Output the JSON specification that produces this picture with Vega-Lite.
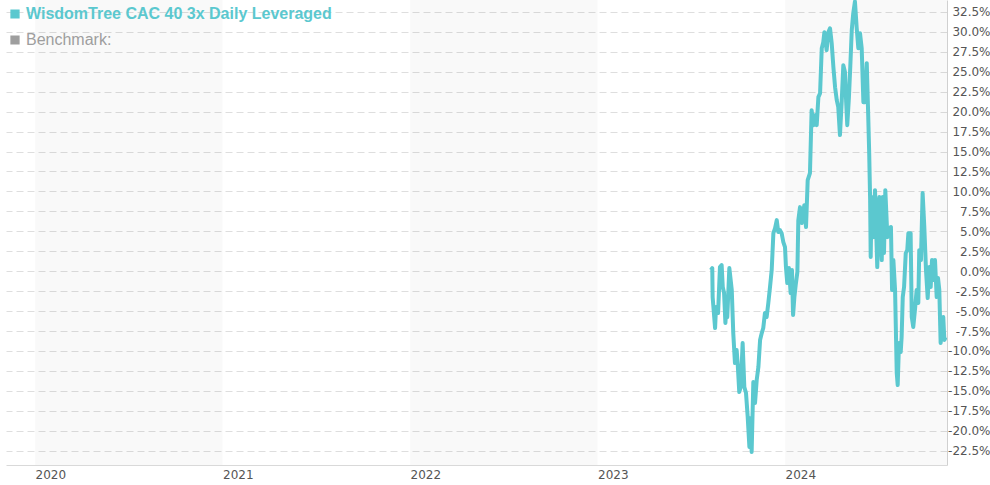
{
  "$schema": "https://vega.github.io/schema/vega-lite/v6.json",
  "width": 941,
  "height": 465,
  "autosize": {"type": "none"},
  "padding": {"left": 6, "top": 0, "right": 43, "bottom": 20},
  "background": "white",
  "config": {"view": {"stroke": null}, "font": "DejaVu Sans"},
  "layer": [
    {
      "data": {"values": [
        {"start": 2020, "end": 2021},
        {"start": 2022, "end": 2023},
        {"start": 2024, "end": 2025}
      ]},
      "mark": {"type": "rect", "clip": true, "color": "#000000", "opacity": 0.022},
      "encoding": {
        "x": {
          "field": "start", "type": "quantitative",
          "scale": {"domain": [2019.845, 2024.864], "nice": false, "zero": false},
          "axis": {
            "values": [2020, 2021, 2022, 2023, 2024], "format": "d", "title": null,
            "grid": false, "ticks": false, "tickSize": 0, "labelAlign": "left",
            "labelPadding": 4, "labelFontSize": 12, "labelColor": "#555555",
            "domainColor": "#d9d9d9", "labelFont": "DejaVu Sans", "labelFlush": false,
            "labelOverlap": false
          }
        },
        "x2": {"field": "end"}
      }
    },
    {
      "data": {"values": [
        {"t": 2023.605, "v": 0.14}, {"t": 2023.612, "v": 0.39}, {"t": 2023.614, "v": -3.25},
        {"t": 2023.627, "v": -7.13}, {"t": 2023.632, "v": -4.50}, {"t": 2023.643, "v": -5.25},
        {"t": 2023.653, "v": 0.51}, {"t": 2023.662, "v": 0.76}, {"t": 2023.668, "v": -1.99},
        {"t": 2023.675, "v": -2.74}, {"t": 2023.682, "v": -6.50}, {"t": 2023.689, "v": -4.00},
        {"t": 2023.692, "v": -5.75}, {"t": 2023.703, "v": 0.39}, {"t": 2023.716, "v": -2.37},
        {"t": 2023.724, "v": -7.76}, {"t": 2023.733, "v": -11.52}, {"t": 2023.742, "v": -9.89},
        {"t": 2023.748, "v": -11.77}, {"t": 2023.756, "v": -15.15}, {"t": 2023.764, "v": -14.52},
        {"t": 2023.774, "v": -9.01}, {"t": 2023.783, "v": -14.52}, {"t": 2023.792, "v": -15.28},
        {"t": 2023.801, "v": -18.28}, {"t": 2023.810, "v": -22.04}, {"t": 2023.817, "v": -18.41},
        {"t": 2023.822, "v": -22.67}, {"t": 2023.831, "v": -13.90}, {"t": 2023.840, "v": -16.53},
        {"t": 2023.849, "v": -13.65}, {"t": 2023.858, "v": -12.02}, {"t": 2023.867, "v": -8.63},
        {"t": 2023.876, "v": -7.76}, {"t": 2023.884, "v": -7.13}, {"t": 2023.893, "v": -5.25},
        {"t": 2023.902, "v": -5.75}, {"t": 2023.911, "v": -4.00}, {"t": 2023.920, "v": -1.99},
        {"t": 2023.929, "v": 0.14}, {"t": 2023.938, "v": 4.77}, {"t": 2023.947, "v": 5.40},
        {"t": 2023.956, "v": 6.40}, {"t": 2023.964, "v": 4.90}, {"t": 2023.973, "v": 5.15},
        {"t": 2023.982, "v": 4.77}, {"t": 2023.991, "v": 3.65}, {"t": 2024.000, "v": 3.02},
        {"t": 2024.005, "v": 0.51}, {"t": 2024.012, "v": -1.49}, {"t": 2024.021, "v": 0.39},
        {"t": 2024.030, "v": -2.74}, {"t": 2024.037, "v": 0.14}, {"t": 2024.043, "v": -5.50},
        {"t": 2024.050, "v": -3.25}, {"t": 2024.057, "v": -1.74}, {"t": 2024.066, "v": -0.11},
        {"t": 2024.071, "v": 6.40}, {"t": 2024.080, "v": 8.03}, {"t": 2024.089, "v": 6.03},
        {"t": 2024.103, "v": 8.28}, {"t": 2024.112, "v": 5.53}, {"t": 2024.121, "v": 11.42},
        {"t": 2024.133, "v": 12.29}, {"t": 2024.142, "v": 20.19}, {"t": 2024.151, "v": 18.31},
        {"t": 2024.160, "v": 19.56}, {"t": 2024.169, "v": 18.31}, {"t": 2024.178, "v": 21.82},
        {"t": 2024.187, "v": 22.32}, {"t": 2024.196, "v": 27.96}, {"t": 2024.204, "v": 28.71},
        {"t": 2024.210, "v": 29.96}, {"t": 2024.222, "v": 27.71}, {"t": 2024.231, "v": 29.96},
        {"t": 2024.240, "v": 30.46}, {"t": 2024.249, "v": 28.58}, {"t": 2024.258, "v": 25.58},
        {"t": 2024.267, "v": 23.07}, {"t": 2024.276, "v": 21.44}, {"t": 2024.284, "v": 20.56},
        {"t": 2024.293, "v": 17.06}, {"t": 2024.302, "v": 21.07}, {"t": 2024.311, "v": 25.83},
        {"t": 2024.320, "v": 24.95}, {"t": 2024.325, "v": 21.82}, {"t": 2024.332, "v": 18.31},
        {"t": 2024.341, "v": 21.82}, {"t": 2024.348, "v": 25.58}, {"t": 2024.356, "v": 30.21},
        {"t": 2024.364, "v": 32.34}, {"t": 2024.373, "v": 33.8}, {"t": 2024.382, "v": 30.59},
        {"t": 2024.391, "v": 27.96}, {"t": 2024.400, "v": 29.84}, {"t": 2024.409, "v": 27.96},
        {"t": 2024.418, "v": 21.19}, {"t": 2024.427, "v": 21.19}, {"t": 2024.436, "v": 26.08},
        {"t": 2024.444, "v": 19.31}, {"t": 2024.449, "v": 14.80}, {"t": 2024.454, "v": 8.91},
        {"t": 2024.457, "v": 1.77}, {"t": 2024.462, "v": 9.29}, {"t": 2024.471, "v": 4.27},
        {"t": 2024.480, "v": 10.16}, {"t": 2024.492, "v": 0.51}, {"t": 2024.503, "v": 9.29},
        {"t": 2024.516, "v": 1.39}, {"t": 2024.521, "v": 9.29}, {"t": 2024.528, "v": 2.27},
        {"t": 2024.535, "v": 10.16}, {"t": 2024.546, "v": 4.27}, {"t": 2024.556, "v": 5.40},
        {"t": 2024.565, "v": 5.53}, {"t": 2024.571, "v": -2.37}, {"t": 2024.578, "v": 1.39},
        {"t": 2024.587, "v": -2.37}, {"t": 2024.596, "v": -12.77}, {"t": 2024.601, "v": -14.27},
        {"t": 2024.608, "v": -9.01}, {"t": 2024.617, "v": -10.14}, {"t": 2024.622, "v": -8.26},
        {"t": 2024.628, "v": -3.25}, {"t": 2024.635, "v": -1.99}, {"t": 2024.644, "v": 2.27},
        {"t": 2024.652, "v": 2.64}, {"t": 2024.658, "v": 4.77}, {"t": 2024.670, "v": 4.77},
        {"t": 2024.676, "v": -5.75}, {"t": 2024.684, "v": -7.00}, {"t": 2024.693, "v": -4.87},
        {"t": 2024.702, "v": -2.37}, {"t": 2024.711, "v": -4.00}, {"t": 2024.716, "v": 2.64},
        {"t": 2024.725, "v": 1.39}, {"t": 2024.734, "v": 9.79}, {"t": 2024.743, "v": 5.53},
        {"t": 2024.752, "v": 0.14}, {"t": 2024.761, "v": -3.37}, {"t": 2024.770, "v": 0.51},
        {"t": 2024.777, "v": -1.99}, {"t": 2024.784, "v": 1.39}, {"t": 2024.791, "v": -1.12},
        {"t": 2024.800, "v": 1.39}, {"t": 2024.809, "v": -3.25}, {"t": 2024.816, "v": -0.86},
        {"t": 2024.823, "v": -2.37}, {"t": 2024.830, "v": -9.01}, {"t": 2024.837, "v": -7.38},
        {"t": 2024.844, "v": -5.75}, {"t": 2024.850, "v": -8.63}, {"t": 2024.857, "v": -8.26}
      ]},
      "mark": {"type": "line", "strokeWidth": 4, "clip": true, "strokeJoin": "round"},
      "encoding": {
        "x": {"field": "t", "type": "quantitative"},
        "y": {
          "field": "v", "type": "quantitative",
          "scale": {"domain": [-24.3, 34.0], "nice": false, "zero": false},
          "axis": {
            "orient": "right",
            "values": [-22.5, -20, -17.5, -15, -12.5, -10, -7.5, -5, -2.5, 0, 2.5, 5, 7.5, 10, 12.5, 15, 17.5, 20, 22.5, 25, 27.5, 30, 32.5],
            "title": null, "grid": true, "gridColor": "#dedede", "gridDash": [7, 4],
            "ticks": false, "tickSize": 0, "labelAlign": "right", "labelBaseline": "middle",
            "labelPadding": 43, "labelFontSize": 12, "labelColor": "#555555",
            "labelFont": "DejaVu Sans", "domainColor": "#d0d0d0",
            "labelExpr": "(datum.value < 0 ? '-' : '') + format(abs(datum.value), '.1f') + '%'",
            "labelOverlap": false, "labelFlush": false
          }
        },
        "color": {
          "datum": "WisdomTree CAC 40 3x Daily Leveraged",
          "type": "nominal",
          "scale": {
            "domain": ["WisdomTree CAC 40 3x Daily Leveraged", "Benchmark:"],
            "range": ["#5bc8cf", "#9e9e9e"]
          },
          "legend": {
            "title": null, "orient": "none", "legendX": 1, "legendY": 6, "padding": 0,
            "symbolType": "square", "symbolSize": 60, "labelFontSize": 16,
            "labelFont": "Liberation Sans", "labelOffset": 3, "rowPadding": 10,
            "labelLimit": 500,
            "encode": {
              "symbols": {"update": {
                "fill": {"signal": "datum.value === 'Benchmark:' ? '#9e9e9e' : '#5bc8cf'"},
                "stroke": {"value": "transparent"},
                "opacity": {"value": 1}
              }},
              "labels": {"update": {
                "fill": {"signal": "datum.value === 'Benchmark:' ? '#9e9e9e' : '#5bc8cf'"},
                "fontWeight": {"signal": "datum.value === 'Benchmark:' ? 'normal' : 'bold'"}
              }}
            }
          }
        }
      }
    }
  ]
}
